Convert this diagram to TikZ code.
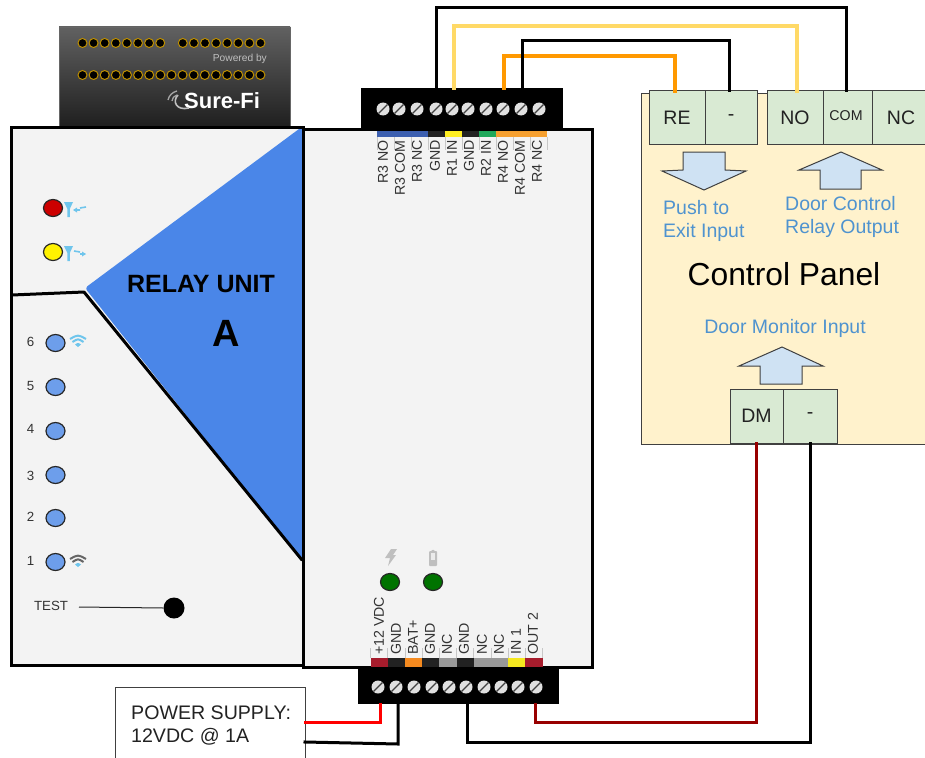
\documentclass[tikz,border=0pt]{standalone}
\usepackage{fontspec}
\setmainfont{Liberation Sans}
\definecolor{panelgrey}{HTML}{F3F3F3}
\definecolor{relayblue}{HTML}{4A86E8}
\definecolor{ledblue}{HTML}{6D9EEB}
\definecolor{cream}{HTML}{FFF2CC}
\definecolor{termgreen}{HTML}{D9EAD3}
\definecolor{arrowblue}{HTML}{CFE2F3}
\definecolor{labelblue}{HTML}{4F93CF}
\definecolor{wireyellow}{HTML}{FFD966}
\definecolor{wireorange}{HTML}{FF9900}
\definecolor{wirered}{HTML}{FF0000}
\definecolor{wiredark}{HTML}{980000}
\definecolor{iconblue}{HTML}{6FC5EC}
\definecolor{txt}{HTML}{222222}
\definecolor{pingold}{HTML}{BF9000}
\newcommand{\fs}[1]{\fontsize{#1}{#1}\selectfont}
\newcommand{\wifiicon}[4]{%
  \draw[#3,line width=2] (#1-8,#2-3) .. controls (#1,#2-7.5) .. (#1+8,#2-3);
  \draw[#3,line width=2] (#1-5.5,#2) .. controls (#1,#2-3.5) .. (#1+5.5,#2);
  \fill[#4] (#1-3,#2+2.5) .. controls (#1,#2+.5) .. (#1+3,#2+2.5) -- (#1,#2+5) -- cycle;}
\newcommand{\antenna}[2]{%
  \fill[iconblue] (#1-5,#2-6) -- (#1+4,#2-6) -- (#1+.8,#2+1) -- (#1+.8,#2+9) -- (#1-1.6,#2+9) -- (#1-1.6,#2+1) -- cycle;}
\tikzset{
  x=1pt,y=-1pt,
  wire/.style={line width=3,line cap=rect},
  widewire/.style={line width=4,line cap=rect},
  led/.style={draw=black!85,line width=1.2,ellipse,inner sep=0,minimum width=19,minimum height=17},
  pin/.style={circle,fill=black,draw=pingold,line width=1,inner sep=0,minimum size=9},
  screw/.style={circle,fill=black!12,inner sep=0,minimum size=13,outer sep=0,
    path picture={\draw[black!75,line width=1.3] (path picture bounding box.south west) -- (path picture bounding box.north east);}},
  block/.style={fill=black,inner sep=0,outer sep=0},
  term/.style={draw=black!75,line width=1,fill=termgreen,inner sep=0,outer sep=0,text=txt},
  flow/.style={draw=black!75,line width=1,fill=arrowblue,line join=miter},
  pinlabel/.style={rotate=90,inner sep=0,text=black!80,font=\fs{14.2}},
  tick/.style={draw=black!22,line width=.8},
  hint/.style={text=labelblue,inner sep=0,font=\fs{19.5},anchor=west},
  ledno/.style={text=black!80,inner sep=0,font=\fs{13.3}},
}
\usetikzlibrary{shapes.geometric}
\begin{document}
\begin{tikzpicture}
\clip (0,0) rectangle (925,757);
\fill[white] (0,0) rectangle (925,757);

% control panel
\node[draw=black!75,line width=1,fill=cream,minimum width=300,minimum height=350,inner sep=0,outer sep=0] (ctrl) at (791,269) {};
\node[term,minimum width=56,minimum height=53,font=\fs{19.5}] (re) at (677,117.5) {RE};
\node[term,minimum width=52,minimum height=53,font=\fs{19.5}] (reminus) at (731,117.5) {-};
\node[term,minimum width=56,minimum height=53,font=\fs{19.5}] (no) at (795,117.5) {NO};
\node[term,minimum width=49,minimum height=53] (com) at (847.5,117.5) {};
\node[text=txt,inner sep=0,font=\fs{14.2}] (comtext) at (846,116) {COM};
\node[term,minimum width=58,minimum height=53,font=\fs{19.5}] (nc) at (901,117.5) {NC};
\node[term,minimum width=53,minimum height=54,font=\fs{19.5}] (dm) at (756.5,416) {DM};
\node[term,minimum width=54,minimum height=54,font=\fs{19.5}] (dmminus) at (810,416) {-};
\draw[flow] (683,152) -- (725,152) -- (725,170) -- (746,171) -- (704,190) -- (662,171) -- (683,170) -- cycle;
\draw[flow] (841,152) -- (882,170) -- (861,170) -- (861,189) -- (820,189) -- (820,170) -- (799,170) -- cycle;
\draw[flow] (782,347) -- (823,366) -- (802,366) -- (802,384) -- (760,384) -- (760,366) -- (739,366) -- cycle;
\node[hint] (pushl) at (663,208) {Push to};
\node[hint] (exitl) at (663,232) {Exit Input};
\node[hint] (doorl) at (785,204) {Door Control};
\node[hint] (relayl) at (785,228) {Relay Output};
\node[inner sep=0,font=\fs{31.8},text=black] (ctitle) at (784,274) {Control Panel};
\node[text=labelblue,inner sep=0,font=\fs{19.5}] (monl) at (785,328) {Door Monitor Input};

% sure-fi header
\node[draw=black!60,line width=.8,top color=black!62,bottom color=black!88,minimum width=231,minimum height=100,inner sep=0] (header) at (174.5,77) {};
\foreach \i in {0,...,7} {
  \node[pin] (pa\i) at ({82.5+11.1*\i},43) {};
  \node[pin] (pb\i) at ({182.8+11.1*\i},43) {};
}
\foreach \i in {0,...,16} \node[pin] (pc\i) at ({82.5+11.12*\i},75) {};
\node[anchor=east,inner sep=0,text=black!25,font=\fs{10.2}] (powered) at (267,59) {Powered by};
\node[anchor=west,inner sep=0,text=white,font=\bfseries\fs{22}] (brand) at (184,101) {Sure-Fi};
\draw[black!25,line width=1.6] (189,108) .. controls (176,111) and (172,101) .. (178,95);
\draw[black!35,line width=1.3] (168,100) .. controls (169,95) and (173,92) .. (177,91);
\draw[black!35,line width=1.3] (172,101) .. controls (172,98) and (174,96) .. (177,95);

% right housing
\node[fill=panelgrey,minimum width=289,minimum height=538,inner sep=0,outer sep=0] (rightbody) at (447.5,398) {};
\draw[line width=3] (rightbody.north west) rectangle (rightbody.south east);

% left housing
\node[fill=panelgrey,minimum width=292,minimum height=538,inner sep=0,outer sep=0] (leftbody) at (157,396) {};
\fill[relayblue,rounded corners=3] (303,126) -- (85,288) -- (303,562) -- cycle;
\draw[line width=3] (leftbody.north west) rectangle (leftbody.south east);
\draw[line width=3,line cap=round,line join=round] (12,295) -- (84,292) -- (302,560);
\node[inner sep=0,font=\bfseries\fs{25},text=black] (unit) at (201,284) {RELAY UNIT};
\node[inner sep=0,font=\bfseries\fs{38},text=black] (unita) at (226,333) {A};

% status LEDs
\node[led,fill=red!80!black] (ledred) at (53,208) {};
\node[led,fill=yellow] (ledyellow) at (53,252) {};
\antenna{69}{208}
\antenna{69}{252}
\draw[iconblue,line width=1.6] (86,207) -- (80,208) (80,210) -- (74,210);
\fill[iconblue] (73,210) -- (77,207.5) -- (77,212.5) -- cycle;
\draw[iconblue,line width=1.6] (74,251) -- (80,252) (80,254) -- (85,254);
\fill[iconblue] (86,254) -- (82,251.5) -- (82,256.5) -- cycle;

\foreach \n/\y/\ty in {6/343/341.5,5/387/385.5,4/431/429,3/475/476,2/518/517,1/562/561} {
  \node[led,fill=ledblue] (sig\n) at (55.5,\y) {};
  \node[ledno] (no\n) at (30.5,\ty) {\n};
}
\wifiicon{78}{342}{iconblue}{iconblue}
\wifiicon{78}{562}{black!60}{iconblue}

\node[inner sep=0,text=black!80,font=\fs{13.3}] (testl) at (51,605.5) {TEST};
\node[circle,fill=black,inner sep=0,minimum size=21] (testbtn) at (174,608) {};
\draw[black!85,line width=1] (79,607) -- (testbtn.west);

% power LEDs
\node[led,fill=green!45!black] (ledpow) at (390,582) {};
\node[led,fill=green!45!black] (ledbat) at (433,582) {};
\fill[black!25] (391,549) -- (397,549) -- (393,555) -- (396,555) -- (388,566) -- (390,558) -- (385,558) -- cycle;
\fill[black!25,rounded corners=1] (429,551) -- (432,551) -- (433,549) -- (434,551) -- (437,551) -- (437,566) -- (429,566) -- cycle;
\fill[black!8] (431,553) rectangle (435,560);

% top strip
\foreach \i/\c in {0/3C5FB0,1/3C5FB0,2/3C5FB0,3/222222,4/FFEE22,5/222222,6/1FA85A,7/F6A030,8/F6A030,9/F6A030} {
  \definecolor{segc}{HTML}{\c}
  \fill[segc] ({377+17*\i},131) rectangle ({394+17*\i},137);
  \draw[tick] ({377+17*\i},137) -- ({377+17*\i},150);
}
\draw[tick] (547,137) -- (547,150);
\foreach \i/\x/\t in {1/383/R3 NO,2/400/R3 COM,3/417/R3 NC,4/435/GND,5/452/R1 IN,6/469/GND,7/486/R2 IN,8/503/R4 NO,9/520/R4 COM,10/537/R4 NC}
  \node[pinlabel,anchor=east] (tl\i) at (\x,140) {\t};

% bottom strip
\foreach \i/\c in {0/A61C2C,1/222222,2/F58A1F,3/222222,4/999999,5/222222,6/999999,7/999999,8/F5E81F,9/A61C2C} {
  \definecolor{segc}{HTML}{\c}
  \fill[segc] ({370.5+17.2*\i},658) rectangle ({387.7+17.2*\i},667);
  \draw[tick] ({370.5+17.2*\i},648) -- ({370.5+17.2*\i},658);
}
\draw[tick] (542.5,648) -- (542.5,658);
\foreach \i/\x/\t in {1/379/+12 VDC,2/396/GND,3/413/BAT+,4/430/GND,5/447/NC,6/464/GND,7/482/NC,8/499/NC,9/516/IN 1,10/533/OUT 2}
  \node[pinlabel,anchor=west] (bl\i) at (\x,655) {\t};

% terminal blocks
\node[block,minimum width=202,minimum height=40] (topblock) at (462,108) {};
\node[block,minimum width=201,minimum height=37] (botblock) at (458.5,685.5) {};
\foreach \i/\x in {1/383,2/399,3/417,4/436,5/452,6/468,7/486,8/503,9/521,10/539}
  \node[screw] (top\i) at (\x,109) {};
\foreach \i/\x in {1/378,2/396,3/414,4/432,5/449,6/466,7/484,8/501,9/518,10/536}
  \node[screw] (bot\i) at (\x,687) {};

% power supply
\node[draw=black!75,line width=1,fill=white,minimum width=190,minimum height=90,inner sep=0,outer sep=0] (psu) at (210,732) {};
\node[anchor=west,inner sep=0,text=txt,font=\fs{19.6}] (psua) at (131,713) {POWER SUPPLY:};
\node[anchor=west,inner sep=0,text=txt,font=\fs{19.6}] (psub) at (131,737) {12VDC @ 1A};

% wires
\coordinate (busa) at (0,8);
\coordinate (busb) at (0,26);
\coordinate (busc) at (0,41);
\coordinate (busd) at (0,56);
\coordinate (buse) at (0,722);
\coordinate (busf) at (0,742);
\coordinate (busg) at (0,744);
\draw[wire,black] (topblock.north -| top4) -- (top4 |- busa) -- ([xshift=-1.5]com.north |- busa) -- ([xshift=-1.5]com.north);
\draw[widewire,wireyellow] ([xshift=2]topblock.north -| top5) -- ([xshift=2]top5 |- busb) -- ([xshift=2]no.north |- busb) -- ([xshift=2]no.north);
\draw[widewire,wireorange] ([xshift=1]topblock.north -| top8) -- ([xshift=1]top8 |- busd) -- ([xshift=-2]re.north |- busd) -- ([xshift=-2]re.north);
\draw[wire,black] ([xshift=1]topblock.north -| top9) -- ([xshift=1]top9 |- busc) -- ([xshift=-2]reminus.north |- busc) -- ([xshift=-2]reminus.north);
\draw[wire,wirered] ([xshift=2]botblock.south -| bot1) -- ([xshift=2]bot1 |- buse) -- (psu.east |- buse);
\draw[wire,black] ([xshift=2]botblock.south -| bot2) -- ([xshift=2]bot2 |- busg) -- (psu.east |- busf);
\draw[wire,black] ([xshift=1]botblock.south -| bot6) -- ([xshift=1]bot6 |- busf) -- (dmminus.south |- busf) -- (dmminus.south);
\draw[wire,wiredark] ([xshift=-1]botblock.south -| bot10) -- ([xshift=-1]bot10 |- buse) -- (dm.south |- buse) -- (dm.south);
\end{tikzpicture}
\end{document}
